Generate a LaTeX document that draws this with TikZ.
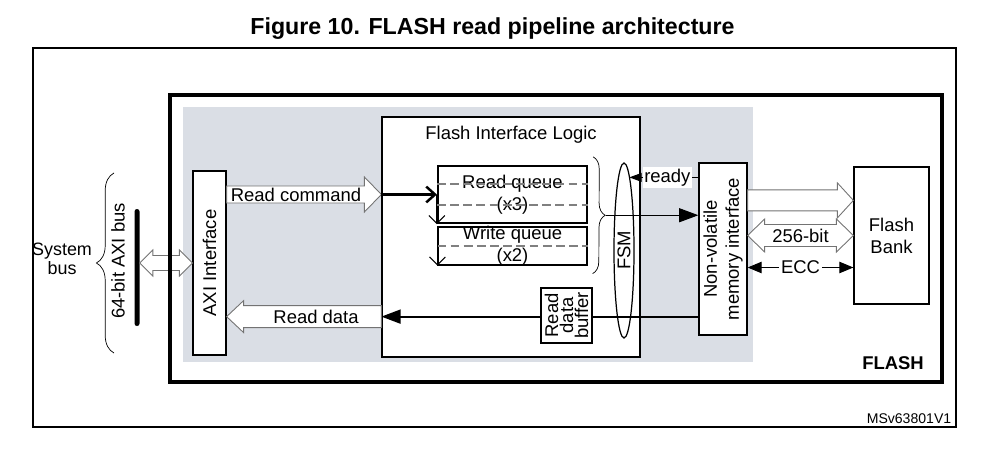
\documentclass[tikz,border=0pt]{standalone}
\usepackage{fontspec}
\setmainfont{Liberation Sans}
\usetikzlibrary{arrows.meta,calc,fit,shapes.geometric,decorations.pathreplacing}
\definecolor{panelgray}{RGB}{218,222,229}

\newcommand\fatarrow[5]{%
  \draw[fat] ($(#1)+(0,{-(#3)})$) -- ($(#2)+({-(#5)},{-(#3)})$) -- ($(#2)+({-(#5)},{-(#4)})$)
    -- (#2) -- ($(#2)+({-(#5)},#4)$) -- ($(#2)+({-(#5)},#3)$) -- ($(#1)+(0,#3)$) -- cycle;}
\newcommand\dblarrow[5]{%
  \draw[fat] (#1) -- ($(#1)+(#5,-#4)$) -- ($(#1)+(#5,-#3)$) -- ($(#2)+(-#5,-#3)$)
    -- ($(#2)+(-#5,-#4)$) -- (#2) -- ($(#2)+(-#5,#4)$) -- ($(#2)+(-#5,#3)$)
    -- ($(#1)+(#5,#3)$) -- ($(#1)+(#5,#4)$) -- cycle;}

\begin{document}
\begin{tikzpicture}[x=0.02cm,y=-0.02cm,font=\fontsize{10.5}{12.5}\selectfont,
  box/.style={draw,fill=white,inner sep=0pt,line width=0.7pt},
  fat/.style={draw=black!55,fill=white,line width=0.5pt},
  qdash/.style={gray,line width=0.8pt,dash pattern=on 5pt off 2.5pt},
  barb/.style={-{Straight Barb[length=4.5pt,width=9pt]},line width=0.6pt}]
  \useasboundingbox (0,0) rectangle (999,449);
  \node[font=\fontsize{13.2}{15}\selectfont\bfseries,anchor=base] (title) at (492.5,35) {Figure 10. FLASH read pipeline architecture};
  \node[draw,line width=0.6pt,inner sep=0pt,fit={(33,48) (956,427)}] (frame) {};
  \node[fill=panelgray,inner sep=0pt,fit={(183,107) (753,362)}] (panel) {};

  \node[box,fit={(193,171) (226,355)}] (axi) {};
  \node[rotate=90] (axitxt) at (axi) {AXI Interface};
  \node[fill,inner sep=0pt,rounded corners=1.4pt,fit={(134.5,209) (139.5,326)}] (bus) {};
  \coordinate (bb1) at (114,353);
  \coordinate (bb2) at (114,173);
  \draw[decorate,decoration={brace,amplitude=10pt}] (bb1) -- (bb2);
  \node[anchor=east,align=center,inner sep=1pt,font=\fontsize{10.2}{10.5}\selectfont] (sysbus) at (94,259) {System\\bus};
  \node[rotate=90] (axibus) at (118,261) {64-bit AXI bus};
  \coordinate (bs1) at (bus.east |- axi.west);
  \dblarrow{bs1}{axi.west}{7.5}{13}{13}
  \node[draw,line width=1.8pt,inner sep=0pt,fit={(170,95) (942,382)}] (flash) {};

  \node[box,fit={(382,117) (640,357)}] (fil) {};
  \node (filtxt) at ($(fil.north)+(0,18)$) {Flash Interface Logic};
  \node[box,line width=1.3pt,fit={(438,166) (587,223)}] (rq) {};
  \node[align=center] (rqtxt) at (rq) {Read queue\\(x3)};
  \node[box,fit={(438,227) (587,265)}] (wq) {};
  \node[align=center] (wqtxt) at (wq) {Write queue\\(x2)};
  \draw[qdash] ($(rq.west)+(0,-10.5)$) -- ($(rq.east)+(0,-10.5)$);
  \draw[qdash] ($(rq.west)+(0,10.5)$) -- ($(rq.east)+(0,10.5)$);
  \draw[qdash] (wq.west) -- (wq.east);
  \draw[barb] (rq.west) -- (rq.south west);
  \draw[barb] (wq.north west) -- (wq.south west);
  \draw[decorate,decoration={brace,amplitude=7pt}] ($(rq.north east)+(5,-8)$) -- ($(wq.south east)+(5,8)$);
  \coordinate (qtip) at ($(rq.north east)!.5!(wq.south east)+(18,0)$);

  \node[draw,ellipse,inner sep=0pt,minimum width=0.4cm,minimum height=3.5cm,line width=0.7pt] (fsm) at (624,250.5) {};
  \node[rotate=90] (fsmtxt) at (fsm) {FSM};
  \node[box,fit={(699,163) (747,335)}] (nvm) {};
  \node[rotate=90,align=center] (nvmtxt) at (nvm) {Non-volatile\\memory interface};
  \node[box,fit={(854,167) (929,304)}] (bank) {};
  \node[align=center] (banktxt) at (bank) {Flash\\Bank};

  \draw[line width=0.6pt,-{Triangle[length=11pt,width=8pt]}] (qtip) -- (qtip -| nvm.west);
  \coordinate (rdy) at ($(nvm.north west)+(0,15)$);
  \draw[line width=0.6pt,-{Triangle[length=7pt,width=5pt]}] (rdy) -- node[fill=white,inner sep=1pt,xshift=2pt] (rdytxt) {ready} (rdy -| fsm.86);
  \coordinate (rd1) at ($(nvm.south west)+(0,-19)$);
  \coordinate (rd2) at (rd1 -| fil.west);
  \draw[line width=1.1pt,-{Triangle[length=11pt,width=8pt]}] (rd1) -- (rd2);
  \node[box,fit={(541,288) (592,343)}] (buf) {};
  \node[rotate=90,align=center,font=\fontsize{10.5}{8.5}\selectfont] (buftxt) at (buf) {Read\\data\\buffer};

  \coordinate (rc1) at (axi.east |- rq.west);
  \coordinate (rc2) at (fil.west |- rq.west);
  \fatarrow{rc1}{rc2}{8.5}{17.5}{17}
  \node (rctxt) at ($(rc1)!.5!(rc2)+(-8,0)$) {Read command};
  \draw[line width=1.4pt,-{Straight Barb[length=5pt,width=9pt]}] (rc2) -- (rq.west);
  \coordinate (rd3) at (rd2 -| axi.east);
  \fatarrow{rd2}{rd3}{11}{16}{-17}
  \node (rdtxt) at ($(rd2)!.5!(rd3)+(12,0)$) {Read data};

  \coordinate (nb1) at ($(nvm.east |- bank.north)+(0,34)$);
  \coordinate (nb2) at (nb1 -| bank.west);
  \fatarrow{nb1}{nb2}{10.5}{17.5}{16}
  \coordinate (wb1) at (nvm.east |- bank.west);
  \dblarrow{wb1}{bank.west}{11}{16.5}{17}
  \node (wbtxt) at ($(wb1)!.5!(bank.west)$) {256-bit};
  \coordinate (ecc1) at ($(wb1)+(0,32)$);
  \coordinate (ecc2) at (ecc1 -| bank.west);
  \draw[line width=0.6pt,{Triangle[length=8pt,width=6.5pt]}-{Triangle[length=8pt,width=6.5pt]}] (ecc1) -- node[fill=white,inner sep=1pt] (ecctxt) {ECC} (ecc2);

  \node[font=\fontsize{10.5}{12}\selectfont\bfseries] (flashtxt) at (893,363) {FLASH};
  \node[font=\fontsize{8}{9.6}\selectfont] (figid) at (909,419) {MSv63801V1};
\end{tikzpicture}
\end{document}
